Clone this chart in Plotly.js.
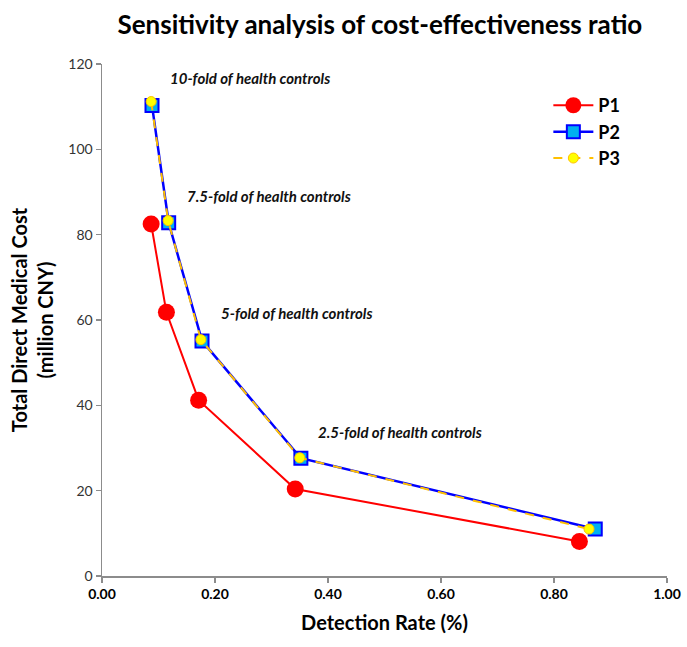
<!DOCTYPE html>
<html>
<head>
<meta charset="utf-8">
<script src="https://cdn.plot.ly/plotly-3.0.1.min.js"></script>
<style>html,body{margin:0;padding:0;background:#fff}</style>
</head>
<body>
<div id="chart" style="width:687px;height:647px"></div>
<script>
// Detection rate (fraction) and total direct medical cost (million CNY)
const p1X = [0.087, 0.114, 0.171, 0.342, 0.845];
const p1Y = [82.5, 61.8, 41.2, 20.4, 8.1];
const p2X = [0.0885, 0.118, 0.177, 0.352, 0.873];
const p2Y = [110.3, 82.8, 55.1, 27.6, 11.0];
const p3X = [0.087, 0.117, 0.175, 0.350, 0.862];
const p3Y = [111.2, 83.3, 55.4, 27.7, 11.0];
const seriesNames = ['P1', 'P2', 'P3'];
const foldLabels = ['10-fold of health controls', '7.5-fold of health controls', '5-fold of health controls', '2.5-fold of health controls'];
const xTicks = [0, 0.2, 0.4, 0.6, 0.8, 1.0];
const xTickText = ['0.00', '0.20', '0.40', '0.60', '0.80', '1.00'];
const yTicks = [0, 20, 40, 60, 80, 100, 120];

const FONT = 'Lato, "Open Sans", "DejaVu Sans", sans-serif';

const traces = [
  {x: p1X, y: p1Y, name: seriesNames[0], mode: 'lines+markers',
   line: {color: '#FF0000', width: 2},
   marker: {symbol: 'circle', size: 17, color: '#FF0000', line: {width: 0}}},
  {x: p2X, y: p2Y, name: seriesNames[1], mode: 'lines+markers',
   line: {color: '#0000FF', width: 2.5},
   marker: {symbol: 'square', size: 13, color: '#00B0F0', line: {color: '#0000FF', width: 2}}},
  {x: p3X, y: p3Y, name: seriesNames[2], mode: 'lines+markers',
   line: {color: '#FFC000', width: 2, dash: 'dash'},
   marker: {symbol: 'circle', size: 10, color: '#FFFF00', line: {color: '#FFC000', width: 1}}}
];

const labelPos = [[0.2625, 116.7], [0.296, 89.0], [0.345, 61.6], [0.528, 33.7]];
const annotations = foldLabels.map((t, i) => ({
  x: labelPos[i][0], y: labelPos[i][1], xref: 'x', yref: 'y',
  text: '<b><i>' + t + '</i></b>', showarrow: false,
  font: {family: FONT, size: 15, color: '#111'}
}));

const layout = {
  width: 687, height: 647,
  margin: {l: 102, r: 20, t: 64, b: 71},
  paper_bgcolor: '#fff', plot_bgcolor: '#fff',
  title: {text: '<b>Sensitivity analysis of cost-effectiveness ratio</b>',
          font: {family: FONT, size: 26, color: '#000'},
          x: 0.553, xanchor: 'center', y: 0.962, yanchor: 'middle'},
  xaxis: {range: [0, 1], tickvals: xTicks, ticktext: xTickText,
          showgrid: false, zeroline: false, showline: true, linecolor: '#8c8c8c', linewidth: 1.5,
          ticks: 'outside', ticklen: 5, tickcolor: '#8c8c8c', tickwidth: 1.5,
          tickfont: {family: FONT, size: 14, color: '#000', weight: 'bold'},
          title: {text: '<b>Detection Rate (%)</b>', font: {family: FONT, size: 20, color: '#000'}, standoff: 14}},
  yaxis: {range: [0, 120], tickvals: yTicks,
          showgrid: false, zeroline: false, showline: true, linecolor: '#8c8c8c', linewidth: 1.5,
          ticks: 'outside', ticklen: 5, tickcolor: '#8c8c8c', tickwidth: 1.5,
          tickfont: {family: FONT, size: 14, color: '#333'},
          title: {text: '<b>Total Direct Medical Cost<br>(million CNY)</b>', font: {family: FONT, size: 20, color: '#000'}, standoff: 9}},
  legend: {x: 0.79, y: 0.955, xanchor: 'left', yanchor: 'top', bgcolor: 'rgba(0,0,0,0)',
           font: {family: FONT, size: 18, color: '#000', weight: 'bold'}, itemwidth: 40, tracegroupgap: 0},
  annotations: annotations,
  showlegend: true
};

Plotly.newPlot('chart', traces, layout, {displayModeBar: false, staticPlot: true});
</script>
</body>
</html>
